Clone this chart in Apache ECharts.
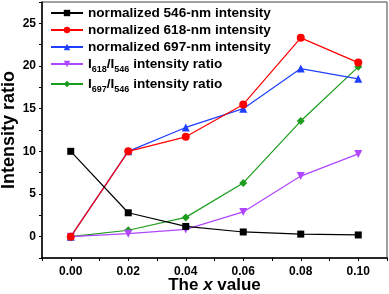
<!DOCTYPE html>
<html><head><meta charset="utf-8">
<script src="https://cdn.jsdelivr.net/npm/echarts@6/dist/echarts.min.js"></script>
<style>html,body{margin:0;padding:0;background:#fff}#c{width:389px;height:294px}</style>
</head><body><div id="c"></div>
<script>
var xValues = [0.00, 0.02, 0.04, 0.06, 0.08, 0.10];
var int546 = [10, 2.8, 1.2, 0.55, 0.3, 0.2];
var int618 = [0, 10, 11.7, 15.5, 23.3, 20.4];
var int697 = [0, 10, 12.8, 15.0, 19.7, 18.5];
var ratio618 = [0, 0.35, 0.85, 2.9, 7.1, 9.7];
var ratio697 = [0, 0.75, 2.26, 6.3, 13.55, 19.9];
var seriesNames = ['normalized 546-nm intensity','normalized 618-nm intensity','normalized 697-nm intensity','I618/I546 intensity ratio','I697/I546 intensity ratio'];
var legendLabels = {
  'I618/I546 intensity ratio': '{b|I}{s|618}{b|/I}{s|546}{b| intensity ratio}',
  'I697/I546 intensity ratio': '{b|I}{s|697}{b|/I}{s|546}{b| intensity ratio}'
};
var colors = ['#000000','#ff0000','#1f3fff','#b046ff','#1c9c1c'];
var symbols = ['rect','circle','triangle','triangle','diamond'];
var rotations = [0,0,0,180,0];
var sizes = [7,8,8,8,8];
var dataSets = [int546, int618, int697, ratio618, ratio697];

function pairs(arr){ return xValues.map(function(x,i){return [x, arr[i]];}); }

var series = dataSets.map(function(d,i){
  return {
    name: seriesNames[i], type:'line', data: pairs(d),
    symbol: symbols[i], symbolRotate: rotations[i], symbolSize: sizes[i],
    lineStyle:{color:colors[i], width:1.2}, itemStyle:{color:colors[i]},
    z: 10 - i
  };
});

var chart = echarts.init(document.getElementById('c'));
chart.setOption({
  animation:false,
  textStyle:{fontFamily:'Liberation Sans, Arial, sans-serif'},
  grid:{left:42, right:2, top:2, bottom:36, show:true, borderColor:'#444', borderWidth:1, containLabel:false, outerBoundsMode:'none'},
  legend:{
    orient:'vertical', left:45, top:1, itemWidth:32, itemHeight:8, itemGap:3,
    data: seriesNames,
    formatter:function(n){ return legendLabels[n] || ('{b|'+n+'}'); },
    textStyle:{
      fontSize:13.6, fontWeight:'bold', color:'#000',
      rich:{
        b:{fontSize:13.6, fontWeight:'bold', color:'#000', fontFamily:'Liberation Sans, Arial, sans-serif'},
        s:{fontSize:9, fontWeight:'bold', color:'#000', verticalAlign:'bottom', padding:[11,0,0,0], fontFamily:'Liberation Sans, Arial, sans-serif'}
      }
    }
  },
  xAxis:{
    type:'value', min:-0.01, max:0.11, interval:0.01,
    name:'{a|The }{i|x}{a| value}', nameLocation:'middle', nameGap:19, nameMoveOverlap:false,
    nameTextStyle:{rich:{a:{fontSize:17,fontWeight:'bold',color:'#000',fontFamily:'Liberation Sans, Arial, sans-serif'}, i:{fontSize:17,fontWeight:'bold',fontStyle:'italic',color:'#000',fontFamily:'Liberation Sans, Arial, sans-serif'}}},
    axisLine:{onZero:false, lineStyle:{color:'#000', width:1.5}},
    axisTick:{inside:false, length:3, lineStyle:{color:'#000', width:1}},
    axisLabel:{fontSize:12, fontWeight:'bold', color:'#000', margin:8,
      formatter:function(v){ var k=Math.round(v*100); if(k%2!==0||k<0||k>10) return ''; return (k/100).toFixed(2);} },
    splitLine:{show:false}
  },
  yAxis:{
    type:'value', min:-2.5, max:27.5, interval:2.5,
    name:'Intensity ratio', nameLocation:'middle', nameGap:24, nameMoveOverlap:false,
    nameTextStyle:{fontSize:18, fontWeight:'bold', color:'#000'},
    axisLine:{show:true, onZero:false, lineStyle:{color:'#000', width:1.5}},
    axisTick:{show:true, inside:false, length:3, lineStyle:{color:'#000', width:1}},
    axisLabel:{fontSize:12, fontWeight:'bold', color:'#000', margin:6,
      formatter:function(v){ var k=Math.round(v*10); if(k%50!==0||k<0) return ''; return String(k/10);} },
    splitLine:{show:false}
  },
  series: series
});
</script></body></html>
